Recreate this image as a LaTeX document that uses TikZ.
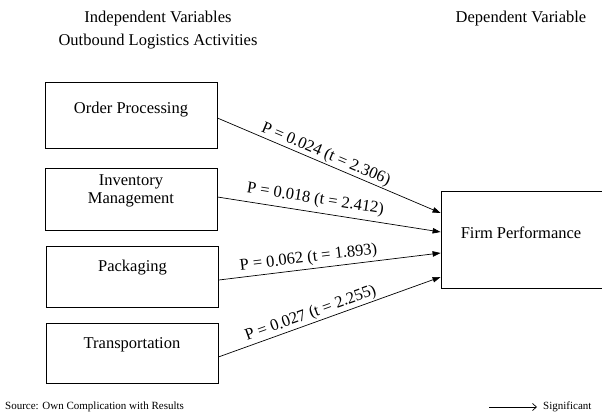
\documentclass[tikz,border=0pt]{standalone}
\usepackage{fontspec}
\setmainfont{Liberation Serif}
\usetikzlibrary{arrows.meta}
\begin{document}
\begin{tikzpicture}[x=1pt,y=-1pt,
  box/.style={draw, line width=0.8pt, inner sep=0pt, minimum width=172pt},
  txt/.style={font=\fontsize{16.5}{18}\selectfont, inner sep=0pt, align=center},
  small/.style={font=\fontsize{11}{13}\selectfont, inner sep=0pt},
  lbl/.style={font=\fontsize{16.5}{18}\selectfont, inner sep=0pt, sloped},
  arr/.style={line width=0.7pt, -{Triangle[length=8pt,width=5.5pt]}}]
\useasboundingbox (0,0) rectangle (602,419);
\clip (0,0) rectangle (602,419);
% titles
\node[txt] (iv) at (158,19) {Independent Variables};
\node[txt] (ola) at (158,42) {Outbound Logistics Activities};
\node[txt] (dv) at (521,19) {Dependent Variable};
% boxes
\node[box, minimum height=66pt] (b1) at (131,115) {};
\node[box, minimum height=62pt] (b2) at (131,199) {};
\node[box, minimum height=61pt] (b3) at (132.5,276.5) {};
\node[box, minimum height=60pt] (b4) at (132,353) {};
\node[box, minimum width=171pt, minimum height=97pt] (fp) at (526.5,239.5) {};
% box texts
\node[txt] (t1) at (131,110) {Order Processing};
\node[txt] (t2) at (131,191) {Inventory\\Management};
\node[txt] (t3) at (132.5,268) {Packaging};
\node[txt] (t4) at (132,345) {Transportation};
\node[txt] (t5) at (521,233) {Firm Performance};
% arrows
\draw[arr] ([yshift=-3pt]b1.east) -- ([yshift=26.5pt]fp.west)
  node[lbl, above=1pt, pos=0.47] {P = 0.024 (t = 2.306)};
\draw[arr] ([yshift=2pt]b2.east) -- ([yshift=7.5pt]fp.west)
  node[lbl, above=5pt, pos=0.43] {P = 0.018 (t = 2.412)};
\draw[arr] ([yshift=-3.5pt]b3.east) -- ([yshift=-13.5pt]fp.west)
  node[lbl, above=3pt, pos=0.41] {P = 0.062 (t = 1.893)};
\draw[arr] ([yshift=-4pt]b4.east) -- ([yshift=-37.5pt]fp.west)
  node[lbl, above=1.5pt, pos=0.43] {P = 0.027 (t = 2.255)};
% footer
\node[small, anchor=west] (src) at (5,407) {Source: Own Complication with Results};
\node[small, anchor=west] (sig) at (543,407) {Significant};
\coordinate (la) at (489,407);
\draw[line width=0.7pt, -{Straight Barb[length=4pt,width=7pt]}] (la) -- ([xshift=-6pt]sig.west);
\end{tikzpicture}
\end{document}
